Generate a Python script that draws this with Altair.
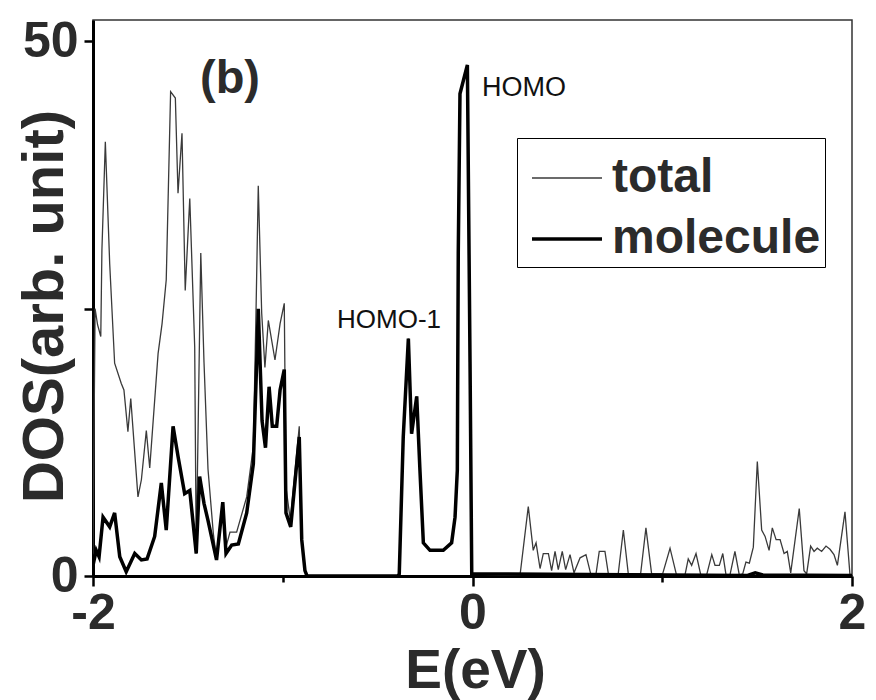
import altair as alt
import pandas as pd

# ---- data ----
total_E = [-2.000, -1.989, -1.976, -1.959, -1.953, -1.935, -1.912, -1.886, -1.851, -1.837,
           -1.816, -1.801, -1.763, -1.745, -1.719, -1.701, -1.657, -1.636, -1.614, -1.591,
           -1.566, -1.552, -1.531, -1.514, -1.490, -1.464, -1.456, -1.432, -1.415, -1.394,
           -1.366, -1.348, -1.316, -1.304, -1.278, -1.243, -1.190, -1.155, -1.141, -1.129,
           -1.111, -1.094, -1.076, -1.041, -1.014, -0.992, -0.983, -0.960, -0.913, -0.900,
           -0.883, -0.872,
           -0.393, -0.386, -0.365, -0.338, -0.321, -0.294, -0.277, -0.259, -0.224, -0.154,
           -0.110, -0.092, -0.080, -0.075, -0.066, -0.027, -0.013, -0.004,
           0.250, 0.294, 0.320, 0.335, 0.356, 0.373, 0.400, 0.417, 0.435, 0.452,
           0.473, 0.491, 0.514, 0.535, 0.567, 0.598, 0.623, 0.651, 0.668, 0.698,
           0.716, 0.768, 0.795, 0.821, 0.886, 0.914, 0.944, 1.002, 1.041, 1.075,
           1.120, 1.137, 1.155, 1.178, 1.203, 1.234, 1.261, 1.278, 1.301, 1.319,
           1.336, 1.357, 1.383, 1.406, 1.424, 1.441, 1.459, 1.480, 1.501, 1.524,
           1.542, 1.563, 1.580, 1.600, 1.621, 1.642, 1.659, 1.677, 1.722, 1.747,
           1.761, 1.782, 1.800, 1.817, 1.840, 1.863, 1.884, 1.905, 1.923, 1.963,
           1.989, 2.000]
total_dos = [2.0, 25.0, 23.5, 22.4, 30.5, 40.6, 29.2, 19.9, 18.0, 17.4,
             13.5, 16.6, 7.4, 9.0, 13.6, 10.1, 20.8, 23.6, 27.7, 45.3,
             44.7, 35.8, 41.4, 26.7, 35.3, 21.4, 2.1, 30.2, 20.0, 10.0,
             4.0, 1.5, 6.9, 2.4, 4.1, 4.1, 7.4, 12.1, 24.6, 36.5,
             24.6, 19.5, 23.9, 20.2, 23.6, 25.5, 8.3, 5.2, 14.0, 3.4,
             0.5, 0.0,
             0.0, 0.2, 13.0, 22.2, 13.3, 16.8, 9.9, 3.1, 2.4, 2.4,
             3.1, 5.5, 9.9, 30.2, 45.1, 47.8, 20.0, 0.2,
             0.0, 6.5, 2.4, 3.1, 0.7, 2.1, 2.1, 0.5, 2.3, 0.6,
             2.3, 0.6, 2.0, 0.3, 1.7, 2.0, 0.2, 0.2, 2.3, 2.3,
             0.2, 0.2, 4.3, 0.2, 0.2, 4.5, 0.2, 0.2, 2.6, 0.1,
             0.1, 1.6, 1.0, 2.1, 0.1, 0.1, 2.0, 1.0, 1.0, 2.1,
             0.1, 0.1, 2.3, 0.1, 0.2, 1.3, 1.2, 2.7, 10.7, 4.3,
             3.7, 2.4, 4.5, 3.4, 3.4, 2.1, 2.3, 0.3, 6.3, 0.5,
             0.2, 2.8, 2.3, 2.6, 2.3, 2.8, 2.5, 2.0, 1.0, 6.0,
             0.2, 0.0]

mol_E = [-2.000, -1.983, -1.968, -1.947, -1.912, -1.886, -1.859, -1.825, -1.780, -1.745,
         -1.715, -1.675, -1.640, -1.614, -1.578, -1.552, -1.517, -1.490, -1.456, -1.438,
         -1.415, -1.394, -1.349, -1.316, -1.299, -1.269, -1.234, -1.190, -1.155, -1.137,
         -1.129, -1.109, -1.091, -1.072, -1.055, -1.032, -1.014, -0.992, -0.983, -0.958,
         -0.913, -0.900, -0.883, -0.872,
         -0.393, -0.386, -0.365, -0.338, -0.321, -0.294, -0.277, -0.259, -0.224, -0.154,
         -0.110, -0.092, -0.080, -0.075, -0.066, -0.027, -0.013, -0.004,
         1.450, 1.490, 1.530, 2.000]
mol_dos = [1.0, 2.4, 1.8, 5.5, 4.6, 5.9, 1.8, 0.4, 2.1, 1.5,
           1.6, 3.7, 8.7, 4.3, 14.0, 11.2, 7.7, 8.0, 2.1, 9.3,
           6.8, 5.2, 1.5, 6.9, 2.1, 2.9, 3.0, 5.9, 10.5, 20.2,
           25.0, 14.5, 12.0, 17.7, 14.0, 14.0, 17.4, 19.3, 5.9, 4.6,
           13.0, 3.4, 0.5, 0.0,
           0.0, 0.2, 13.0, 22.2, 13.3, 16.8, 9.9, 3.1, 2.4, 2.4,
           3.1, 5.5, 9.9, 30.2, 45.1, 47.8, 20.0, 0.2,
           0.05, 0.3, 0.1, 0.05]

series_names = ["total", "molecule"]

annot_text = ["(b)", "HOMO", "HOMO-1"]
annot_E = [-1.278, 0.050, -0.440]
annot_dos = [45.2, 44.9, 23.2]

FONT = "Liberation Sans, Arial, sans-serif"

df = pd.concat([
    pd.DataFrame({"E": total_E, "DOS": total_dos, "series": "total", "k": 0}),
    pd.DataFrame({"E": mol_E, "DOS": mol_dos, "series": "molecule", "k": 1}),
], ignore_index=True)

xscale = alt.Scale(domain=[-2, 2], nice=False, zero=False)
yscale = alt.Scale(domain=[0, 52], nice=False)

lines = alt.Chart(df).mark_line(clip=True).encode(
    x=alt.X("E:Q", scale=xscale,
            axis=alt.Axis(values=[-2, -1, 0, 1, 2], title="E(eV)",
                          labelExpr="datum.value % 2 == 0 ? '' + datum.value : ''",
                          tickSize=alt.condition("datum.value % 2 == 0", alt.value(10), alt.value(6)),
                          labelPadding=2, titleX=382, titleY=111, titleFontSize=55,
                          titleBaseline="alphabetic", titleAlign="center")),
    y=alt.Y("DOS:Q", scale=yscale,
            axis=alt.Axis(values=[0, 25, 50], title="DOS(arb. unit)",
                          labelExpr="datum.value == 25 ? '' : datum.label",
                          tickSize=9, labelPadding=6,
                          titleAngle=270, titleX=-31, titleY=286,
                          titleBaseline="alphabetic", titleAlign="center")),
    color=alt.Color("series:N", scale=alt.Scale(domain=series_names, range=["#3a3a3a", "#000000"]),
                    title=None),
    strokeWidth=alt.StrokeWidth("series:N", scale=alt.Scale(domain=series_names, range=[1.3, 3.5]),
                                title=None),
    order=alt.Order("k:Q"),
    detail="series:N",
)

annot_df = pd.DataFrame({"E": annot_E, "DOS": annot_dos, "text": annot_text})

label_b = alt.Chart(annot_df[annot_df.text == "(b)"]).mark_text(
    font=FONT, fontSize=47, fontWeight="bold", color="#2b2b2b", align="center", baseline="alphabetic"
).encode(x=alt.X("E:Q", scale=xscale), y=alt.Y("DOS:Q", scale=yscale), text="text:N")

label_homo = alt.Chart(annot_df[annot_df.text == "HOMO"]).mark_text(
    font=FONT, fontSize=27, color="#111", align="left", baseline="alphabetic"
).encode(x=alt.X("E:Q", scale=xscale), y=alt.Y("DOS:Q", scale=yscale), text="text:N")

label_homo1 = alt.Chart(annot_df[annot_df.text == "HOMO-1"]).mark_text(
    font=FONT, fontSize=26, color="#111", align="center", baseline="alphabetic"
).encode(x=alt.X("E:Q", scale=xscale), y=alt.Y("DOS:Q", scale=yscale), text="text:N")

chart = alt.layer(lines, label_b, label_homo, label_homo1).properties(
    width=759, height=556,
    autosize=alt.AutoSizeParams(type="none"),
    padding={"left": 93, "top": 20, "right": 24, "bottom": 124},
    background="white",
).configure_view(
    stroke="#333", strokeWidth=1.5
).configure_axis(
    domainColor="#000", domainWidth=3, tickColor="#000", tickWidth=2.5,
    grid=False, labelFont=FONT, labelFontSize=50, labelFontWeight="bold", labelColor="#2b2b2b",
    titleFont=FONT, titleFontSize=58, titleFontWeight="bold", titleColor="#2b2b2b",
    labelFlush=False, labelOverlap=False,
).configure_legend(
    orient="none", legendX=424, legendY=118,
    strokeColor="#000", padding=4, fillColor="white",
    symbolType="stroke", symbolSize=4900, symbolStrokeColor="#000", symbolOffset=9,
    labelFont=FONT, labelFontSize=48, labelFontWeight="bold", labelColor="#2b2b2b",
    labelOffset=8, rowPadding=0, labelLimit=400,
)

chart.save("out.html", embed_options={"renderer": "svg", "actions": False})
